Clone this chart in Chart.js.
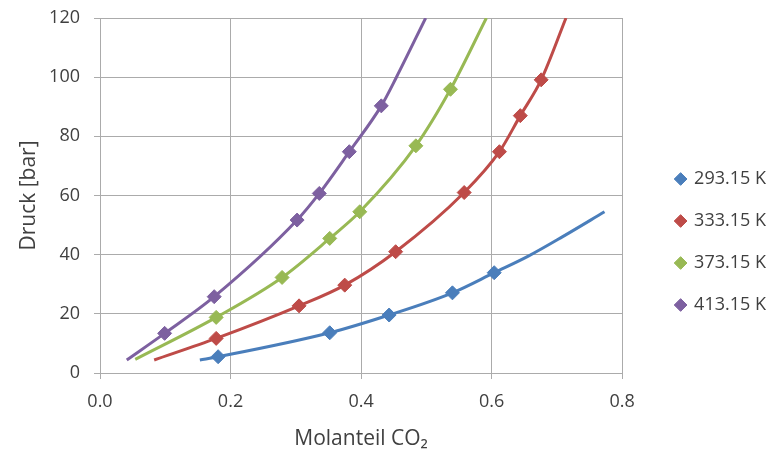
<!DOCTYPE html>
<html lang="de">
<head>
<meta charset="utf-8">
<title>Druck über Molanteil CO₂</title>
<script src="https://cdn.jsdelivr.net/npm/chart.js@4.4.1/dist/chart.umd.min.js"></script>
<style>
  html, body { margin: 0; padding: 0; background: #fff; }
  #diagramm { display: block; }
</style>
</head>
<body>
<canvas id="diagramm" width="778" height="456"></canvas>
<script>
// Temperaturen und Farben der vier Reihen
const temperaturen = ['293.15 K', '333.15 K', '373.15 K', '413.15 K'];
const farben = ['#4A7EBB', '#BE4B48', '#98B954', '#7D60A0'];

// Messpunkte: Molanteil CO2 (x) und Druck in bar (p)
const x293 = [0.181, 0.352, 0.443, 0.540, 0.604];
const p293 = [5.5, 13.6, 19.6, 27.1, 33.9];
const x333 = [0.178, 0.305, 0.375, 0.453, 0.558, 0.612, 0.644, 0.676];
const p333 = [11.7, 22.7, 29.7, 41.0, 61.0, 74.8, 87.0, 99.1];
const x373 = [0.178, 0.279, 0.352, 0.398, 0.484, 0.537];
const p373 = [18.8, 32.3, 45.5, 54.5, 76.8, 95.9];
const x413 = [0.099, 0.175, 0.302, 0.336, 0.382, 0.431];
const p413 = [13.4, 25.8, 51.7, 60.7, 74.8, 90.3];

// berechnete Kurven (Modell), Stützstellen entlang der Linien
const kx293 = [0.153, 0.181, 0.352, 0.443, 0.540, 0.604, 0.657, 0.709, 0.773];
const kp293 = [4.4, 5.5, 13.6, 19.6, 27.1, 33.9, 39.6, 46.1, 54.5];
const kx333 = [0.083, 0.178, 0.305, 0.375, 0.453, 0.558, 0.612, 0.644, 0.676, 0.714];
const kp333 = [4.4, 11.7, 22.7, 29.7, 41.0, 61.0, 74.8, 87.0, 99.1, 120];
const kx373 = [0.054, 0.178, 0.279, 0.352, 0.398, 0.484, 0.537, 0.592];
const kp373 = [4.6, 18.8, 32.3, 45.5, 54.5, 76.8, 95.9, 120];
const kx413 = [0.041, 0.099, 0.175, 0.302, 0.336, 0.382, 0.431, 0.454, 0.499];
const kp413 = [4.4, 13.4, 25.8, 51.7, 60.7, 74.8, 90.3, 99.9, 120];

// Achsen
const xMin = 0, xMax = 0.8, xSchritt = 0.2;
const yMin = 0, yMax = 120, ySchritt = 20;

const messX = [x293, x333, x373, x413];
const messP = [p293, p333, p373, p413];
const kurveX = [kx293, kx333, kx373, kx413];
const kurveP = [kp293, kp333, kp373, kp413];

const punkte = (xs, ps) => xs.map((x, i) => ({ x: x, y: ps[i] }));

// Messpunkte zuerst, damit die Rauten über den Linien liegen
const datasets = [];
temperaturen.forEach((t, i) => {
  datasets.push({
    label: t,
    data: punkte(messX[i], messP[i]),
    showLine: false,
    pointStyle: 'rectRot',
    pointRadius: 7,
    pointHoverRadius: 7,
    backgroundColor: farben[i],
    borderColor: farben[i],
    borderWidth: 1
  });
});
temperaturen.forEach((t, i) => {
  datasets.push({
    label: t + ' Modell',
    data: punkte(kurveX[i], kurveP[i]),
    showLine: true,
    pointRadius: 0,
    borderColor: farben[i],
    backgroundColor: farben[i],
    borderWidth: 3,
    cubicInterpolationMode: 'monotone'
  });
});

// Legende sitzt rechts neben dem Diagramm, etwas eingerückt
const legendeVersatz = { x: 30, y: 5 };
const legendeVerschieben = {
  id: 'legendeVerschieben',
  afterLayout(chart) {
    const l = chart.legend;
    l.left += legendeVersatz.x; l.right += legendeVersatz.x;
    l.top += legendeVersatz.y; l.bottom += legendeVersatz.y;
  }
};

Chart.defaults.font.family = '"Open Sans", sans-serif';
Chart.defaults.color = '#404040';

const gitter = '#ABABAB';

new Chart(document.getElementById('diagramm'), {
  type: 'scatter',
  data: { datasets: datasets },
  plugins: [legendeVerschieben],
  options: {
    responsive: false,
    devicePixelRatio: 1,
    animation: false,
    layout: { autoPadding: false, padding: { top: 18, right: 32, bottom: 0, left: 0 } },
    plugins: {
      tooltip: { enabled: false },
      legend: {
        position: 'right',
        labels: {
          usePointStyle: true,
          pointStyle: 'rectRot',
          boxWidth: 9,
          boxHeight: 9,
          padding: 24,
          font: { size: 18 },
          filter: (item) => item.datasetIndex < temperaturen.length
        }
      }
    },
    scales: {
      x: {
        type: 'linear',
        min: xMin,
        max: xMax,
        afterFit: (s) => { s.height = 83; },
        ticks: {
          stepSize: xSchritt,
          padding: 12,
          font: { size: 18 },
          callback: (v) => v.toFixed(1)
        },
        grid: { color: gitter, lineWidth: 1, tickLength: 6 },
        border: { color: gitter },
        title: {
          display: true,
          text: 'Molanteil CO₂',
          font: { size: 21 },
          padding: { top: 4, bottom: 4 }
        }
      },
      y: {
        min: yMin,
        max: yMax,
        afterFit: (s) => { s.width = 100; s.paddingTop = 0; s.paddingBottom = 0; },
        ticks: {
          stepSize: ySchritt,
          padding: 14,
          font: { size: 18 }
        },
        grid: { color: gitter, lineWidth: 1, tickLength: 6 },
        border: { color: gitter },
        title: {
          display: true,
          text: 'Druck [bar]',
          font: { size: 21 },
          padding: { top: 16, bottom: 16 }
        }
      }
    }
  }
});
</script>
</body>
</html>
